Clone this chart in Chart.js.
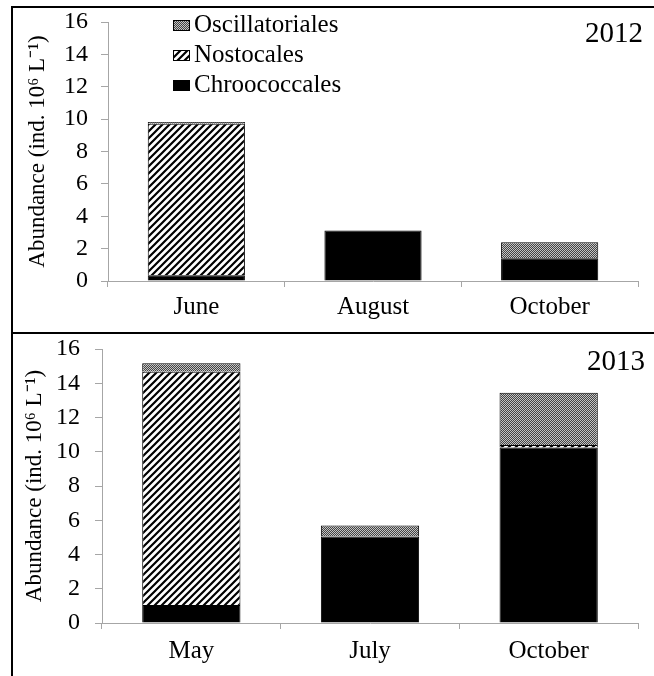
<!DOCTYPE html>
<html>
<head>
<meta charset="utf-8">
<script src="https://cdn.jsdelivr.net/npm/chart.js@4.4.1/dist/chart.umd.min.js"></script>
<style>
  body { margin: 0; background: #fff; }
  #page { position: relative; width: 654px; height: 676px; overflow: hidden; }
  .rule { position: absolute; background: #000; }
  .panel { position: absolute; left: 13px; width: 641px; }
</style>
</head>
<body>
<div id="page">
  <div class="rule" style="left:11px;top:6px;width:643px;height:2px"></div>
  <div class="rule" style="left:11px;top:6px;width:2px;height:670px"></div>
  <div class="rule" style="left:11px;top:332px;width:643px;height:2px"></div>
  <div class="panel" style="top:8px;height:324px"><canvas id="c2012" width="641" height="324"></canvas></div>
  <div class="panel" style="top:334px;height:342px"><canvas id="c2013" width="641" height="342"></canvas></div>
</div>
<script>
// values (ind. 10^6 L-1)
const groups = ['Chroococcales', 'Nostocales', 'Oscillatoriales'];

const months2012 = ['June', 'August', 'October'];
const chroo2012 = [0.35, 3.12, 1.4];
const nosto2012 = [9.37, 0, 0];
const osc2012 = [0.1, 0, 1.0];

const months2013 = ['May', 'July', 'October'];
const chroo2013 = [1.05, 5.05, 10.25];
const nosto2013 = [13.62, 0, 0.15];
const osc2013 = [0.5, 0.65, 3.05];

const yTicks = [0, 2, 4, 6, 8, 10, 12, 14, 16];
const yTitle = 'Abundance (ind. 10\u2076 L\u207B\u00B9)';

Chart.defaults.font.family = "'Liberation Serif', 'Times New Roman', serif";
Chart.defaults.color = '#000';

function makeHatch() {
  const c = document.createElement('canvas');
  c.width = 7; c.height = 7;
  const g = c.getContext('2d');
  g.fillStyle = '#fff';
  g.fillRect(0, 0, 7, 7);
  g.strokeStyle = '#000';
  g.lineWidth = 2.2;
  g.beginPath();
  g.moveTo(-1, 8); g.lineTo(8, -1);
  g.moveTo(-8, 8); g.lineTo(1, -1);
  g.moveTo(6, 8); g.lineTo(15, -1);
  g.stroke();
  return g.createPattern(c, 'repeat');
}

function makeDots() {
  const c = document.createElement('canvas');
  c.width = 2; c.height = 2;
  const g = c.getContext('2d');
  g.fillStyle = '#c4c4c4';
  g.fillRect(0, 0, 2, 2);
  g.fillStyle = '#444';
  g.fillRect(0, 0, 1, 1);
  g.fillRect(1, 1, 1, 1);
  return g.createPattern(c, 'repeat');
}

const fills = ['#000', makeHatch(), makeDots()];

// legend + year text drawn inside the plot area
const panelText = {
  id: 'panelText',
  afterDraw(chart, args, opts) {
    const { ctx, chartArea } = chart;
    ctx.save();
    if (opts.legend) {
      const L = opts.legend;
      ctx.font = L.font;
      ctx.textBaseline = 'alphabetic';
      chart.data.datasets.slice().reverse().forEach((ds, i) => {
        const base = chartArea.top + L.y + i * L.row;
        const x = chartArea.left + L.x;
        ctx.fillStyle = ds.backgroundColor;
        ctx.fillRect(x, base - 1 - L.boxH, L.boxW, L.boxH);
        ctx.strokeStyle = '#000';
        ctx.lineWidth = 1;
        ctx.strokeRect(x + 0.5, base - 0.5 - L.boxH, L.boxW - 1, L.boxH - 1);
        ctx.fillStyle = '#000';
        ctx.fillText(ds.label, x + L.boxW + L.gap, base);
      });
    }
    ctx.font = opts.yearFont;
    ctx.fillStyle = '#000';
    ctx.textAlign = 'right';
    ctx.textBaseline = 'middle';
    ctx.fillText(opts.year, chartArea.right + opts.yearDx, chartArea.top + opts.yearDy);
    ctx.restore();
  }
};

function buildChart(id, months, series, cfg) {
  return new Chart(document.getElementById(id), {
    type: 'bar',
    data: {
      labels: months,
      datasets: series.map((vals, i) => ({
        label: groups[i],
        data: vals,
        backgroundColor: fills[i],
        borderColor: '#000',
        borderWidth: 1,
        categoryPercentage: 1,
        barPercentage: 0.55
      }))
    },
    plugins: [panelText],
    options: {
      responsive: false,
      animation: false,
      layout: { padding: { left: 0, top: cfg.top, right: 16, bottom: 0 } },
      plugins: {
        legend: { display: false },
        tooltip: { enabled: false },
        panelText: {
          year: cfg.year,
          yearFont: "29px 'Liberation Serif'",
          yearDx: cfg.yearDx,
          yearDy: cfg.yearDy,
          legend: cfg.legend
        }
      },
      scales: {
        x: {
          stacked: true,
          afterFit(s) { s.height = cfg.xHeight; },
          grid: { offset: true, drawOnChartArea: false, color: '#a6a6a6', tickLength: 6 },
          border: { color: '#a6a6a6', width: 1 },
          ticks: { font: { size: 25 }, padding: cfg.xPad }
        },
        y: {
          stacked: true,
          min: 0,
          max: 16,
          afterFit(s) {
            s.width = cfg.yWidth;
            s.paddingTop = 0;
            s.paddingBottom = 0;
          },
          afterBuildTicks(s) { s.ticks = yTicks.map(v => ({ value: v })); },
          grid: { drawOnChartArea: false, color: '#a6a6a6', tickLength: 7 },
          border: { color: '#a6a6a6', width: 1 },
          ticks: { font: { size: 24, lineHeight: 1 }, padding: cfg.yPad, autoSkip: false },
          title: {
            display: true,
            text: yTitle,
            font: { size: 23 },
            padding: { top: cfg.titlePad, bottom: 0 }
          }
        }
      }
    }
  });
}

buildChart('c2012', months2012, [chroo2012, nosto2012, osc2012], {
  year: '2012', top: 14, xHeight: 51, yWidth: 95, xPad: 5, yPad: 13, titlePad: 11,
  yearDx: 5, yearDy: 12,
  legend: { font: "25px 'Liberation Serif'", x: 65, y: 10, row: 30, boxW: 17, boxH: 11, gap: 4 }
});

buildChart('c2013', months2013, [chroo2013, nosto2013, osc2013], {
  year: '2013', top: 15, xHeight: 53, yWidth: 89, xPad: 7, yPad: 15, titlePad: 8,
  yearDx: 7, yearDy: 13,
  legend: null
});
</script>
</body>
</html>
